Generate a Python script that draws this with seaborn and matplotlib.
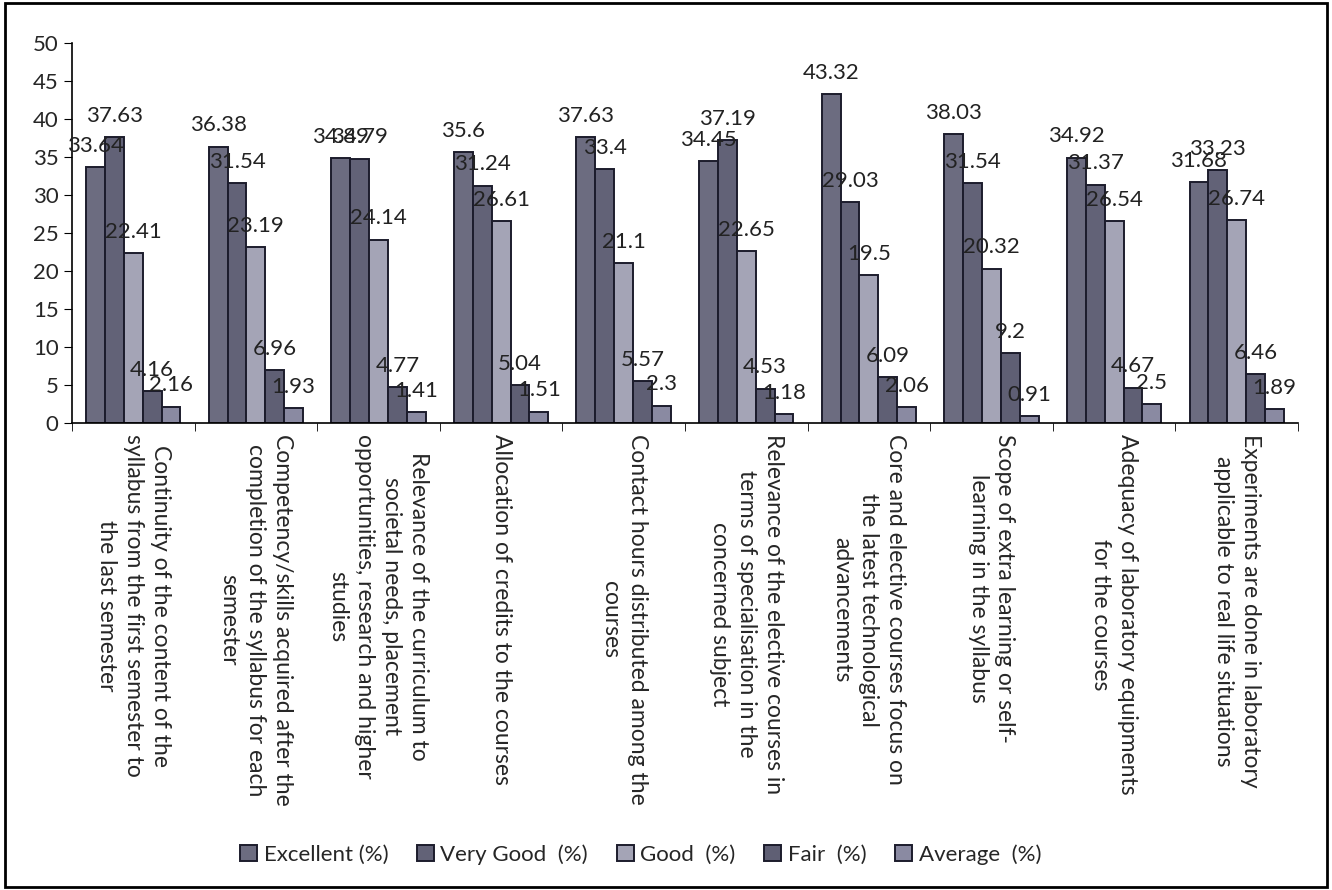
import pandas as pd
import numpy as np
import matplotlib
matplotlib.use("Agg")
import matplotlib.pyplot as plt
import seaborn as sns
from matplotlib.patches import Rectangle

categories = [
    "Continuity of the content of the\nsyllabus from the first semester to\nthe last semester",
    "Competency/skills acquired after the\ncompletion of the syllabus for each\nsemester",
    "Relevance of the curriculum to\nsocietal needs, placement\nopportunities, research and higher\nstudies",
    "Allocation of credits to the courses",
    "Contact hours distributed among the\ncourses",
    "Relevance of the elective courses in\nterms of specialisation in the\nconcerned subject",
    "Core and elective courses focus on\nthe latest technological\nadvancements",
    "Scope of extra learning or self-\nlearning in the syllabus",
    "Adequacy of laboratory equipments\nfor the courses",
    "Experiments are done in laboratory\napplicable to real life situations",
]
series = ["Excellent (%)", "Very Good  (%)", "Good  (%)", "Fair  (%)", "Average  (%)"]

excellent = [33.64, 36.38, 34.89, 35.6, 37.63, 34.45, 43.32, 38.03, 34.92, 31.68]
very_good = [37.63, 31.54, 34.79, 31.24, 33.4, 37.19, 29.03, 31.54, 31.37, 33.23]
good = [22.41, 23.19, 24.14, 26.61, 21.1, 22.65, 19.5, 20.32, 26.54, 26.74]
fair = [4.16, 6.96, 4.77, 5.04, 5.57, 4.53, 6.09, 9.2, 4.67, 6.46]
average = [2.16, 1.93, 1.41, 1.51, 2.3, 1.18, 2.06, 0.91, 2.5, 1.89]

colors = ["#6c6c80", "#626277", "#a4a4b6", "#5f5f74", "#8a8aa2"]

values = [excellent, very_good, good, fair, average]
rows = []
for s, vals in zip(series, values):
    for c, v in zip(categories, vals):
        rows.append({"category": c, "series": s, "value": v})
df = pd.DataFrame(rows)

sns.set_style("white")
plt.rcParams["font.family"] = ["Lato", "DejaVu Sans"]

fig = plt.figure(figsize=(13.32, 8.9), dpi=100)
ax = fig.add_axes([0.054, 0.5247, 0.9205, 0.427])

sns.barplot(
    data=df, x="category", y="value", hue="series",
    order=categories, hue_order=series, palette=colors,
    width=0.77, edgecolor="#1c1c2c", linewidth=1.4,
    saturation=1, ax=ax, legend=True,
)

for cont in ax.containers:
    ax.bar_label(cont, fmt="%g", padding=8, fontsize=16, color="#222222")

ax.set_xlim(-0.5, len(categories) - 0.5)
ax.set_ylim(0, 50)
ax.set_yticks(np.arange(0, 51, 5))
ax.tick_params(axis="y", labelsize=16, length=6, direction="out", left=True, color="black")
ax.set_xticks(np.arange(len(categories)))
ax.set_xticklabels(categories, rotation=270, ha="center", va="top",
                   multialignment="center", fontsize=16.5, linespacing=1.35)
ax.set_xticks(np.arange(-0.5, len(categories)), minor=True)
ax.tick_params(axis="x", which="major", length=0, pad=8)
ax.tick_params(axis="x", which="minor", length=6, direction="out", bottom=True, color="black")
ax.set_xlabel("")
ax.set_ylabel("")
for side in ["top", "right"]:
    ax.spines[side].set_visible(False)
for side in ["left", "bottom"]:
    ax.spines[side].set_color("black")
    ax.spines[side].set_linewidth(1.2)

ax.legend_.remove()
handles, labels = ax.get_legend_handles_labels()
fig.legend(handles[:5], series, loc="center", bbox_to_anchor=(0.481, 0.04),
           ncol=5, frameon=False, fontsize=16, handlelength=0.75, handleheight=0.75,
           columnspacing=1.3, handletextpad=0.3)

fig.patches.append(Rectangle((0.004, 0.003), 0.992, 0.994, transform=fig.transFigure,
                             fill=False, edgecolor="black", linewidth=2))

fig.savefig("out.png", dpi=100)
